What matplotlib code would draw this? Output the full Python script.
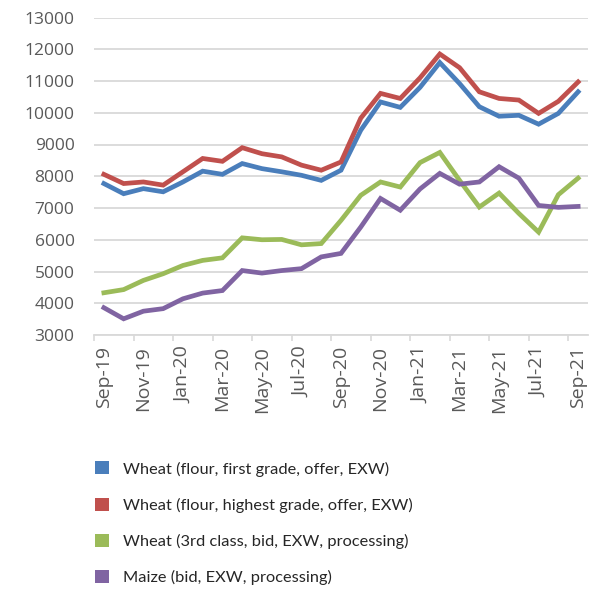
import numpy as np
import matplotlib.pyplot as plt
from matplotlib.patches import Patch

months = ["Sep-19", "Oct-19", "Nov-19", "Dec-19", "Jan-20", "Feb-20", "Mar-20", "Apr-20",
          "May-20", "Jun-20", "Jul-20", "Aug-20", "Sep-20", "Oct-20", "Nov-20", "Dec-20",
          "Jan-21", "Feb-21", "Mar-21", "Apr-21", "May-21", "Jun-21", "Jul-21", "Aug-21", "Sep-21"]

wheat_first = [7770, 7450, 7610, 7510, 7820, 8160, 8060, 8400, 8240, 8140, 8030, 7870, 8190,
               9450, 10340, 10170, 10800, 11580, 10920, 10190, 9890, 9920, 9640, 9980, 10660]
wheat_highest = [8060, 7770, 7820, 7720, 8140, 8560, 8470, 8900, 8710, 8610, 8350, 8190, 8450,
                 9830, 10610, 10450, 11100, 11850, 11420, 10660, 10450, 10400, 9980, 10360, 10970]
wheat_3rd = [4330, 4430, 4720, 4930, 5190, 5350, 5430, 6060, 6000, 6010, 5840, 5880, 6610,
             7400, 7820, 7660, 8430, 8750, 7870, 7030, 7470, 6830, 6240, 7420, 7940]
maize = [3860, 3510, 3750, 3830, 4140, 4320, 4400, 5030, 4950, 5030, 5090, 5460, 5570,
         6400, 7300, 6930, 7600, 8090, 7750, 7820, 8300, 7940, 7080, 7020, 7050]

labels = ["Wheat (flour, first grade, offer, EXW)",
          "Wheat (flour, highest grade, offer, EXW)",
          "Wheat (3rd class, bid, EXW, processing)",
          "Maize (bid, EXW, processing)"]
colors = ["#4A7EBB", "#C0504D", "#9BBB59", "#8064A2"]

plt.rcParams['font.family'] = ['Open Sans', 'DejaVu Sans']

fig = plt.figure(figsize=(6.01, 5.90), dpi=100)
ax = fig.add_axes([94 / 601, 1 - 335 / 590, (588 - 94) / 601, (335 - 17.5) / 590])

x = np.arange(len(months))
for s, c in zip([wheat_first, wheat_highest, wheat_3rd, maize], colors):
    ax.plot(x, s, color=c, lw=3.4, solid_joinstyle="miter", zorder=3)

ax.set_xlim(-0.5, len(months) - 0.5)
ax.set_ylim(3000, 13000)
ax.set_yticks(np.arange(3000, 13001, 1000))
ax.grid(axis="y", color="#D9D9D9", lw=1.3, zorder=0)
for side in ["top", "right", "left"]:
    ax.spines[side].set_visible(False)
ax.spines["bottom"].set_color("#D9D9D9")
ax.spines["bottom"].set_linewidth(1.3)

ax.set_xticks(x[::2])
ax.set_xticklabels(months[::2], rotation=90)
ax.set_xticks(np.arange(-0.5, len(months) - 1, 2), minor=True)
ax.tick_params(axis="x", which="major", length=0, pad=8, labelsize=14, labelcolor="#595959")
ax.tick_params(axis="x", which="minor", length=4, width=1.2, color="#D9D9D9")
ax.tick_params(axis="y", length=0, pad=14, labelsize=12.5, labelcolor="#595959")

handles = [Patch(facecolor=c, edgecolor="none") for c in colors]
fig.legend(handles, labels, loc="upper left", bbox_to_anchor=(0.133, 0.243),
           frameon=False, prop={"family": "Lato", "size": 11.8}, handlelength=0.85,
           handleheight=0.85, handletextpad=0.9, labelspacing=1.28, labelcolor="#262626")

fig.savefig("out.png", dpi=100)
